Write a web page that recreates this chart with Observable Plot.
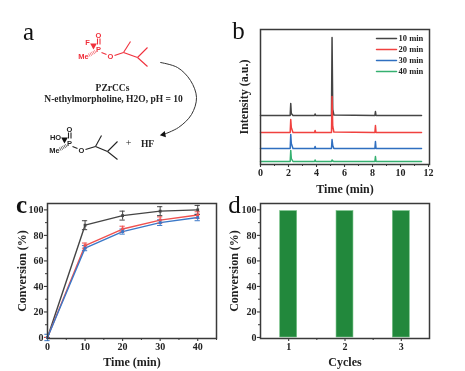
<!DOCTYPE html>
<html><head><meta charset="utf-8">
<script src="https://cdn.jsdelivr.net/npm/d3@7"></script>
<script src="https://cdn.jsdelivr.net/npm/@observablehq/plot@0.6"></script>
<style>
html,body{margin:0;padding:0;background:#fff;width:465px;height:371px;overflow:hidden}
#root{position:relative;width:465px;height:371px;filter:blur(0.35px)}
#root svg{position:absolute;overflow:visible}
</style></head><body><div id="root"></div>
<script>
const SERIF = "'Liberation Serif','Times New Roman',serif";
const INK = "#3a3a3a";
const noLabel = () => "";

// Panel b: chromatogram
const bTimes = [0, 2.12, 2.16, 2.2, 2.32, 3.86, 3.9, 3.94, 5.07, 5.11, 5.16, 5.24, 8.17, 8.21, 8.25, 11.5];
const bSeries = ["10 min", "20 min", "30 min", "40 min"];
const bColors = ["#454545", "#f0413f", "#2f6fc0", "#35b070"];
const b10 = [49, 49, 61, 51, 49, 49, 50.5, 49, 49, 127, 55, 49.5, 49, 53, 49, 49];
const b20 = [32, 32, 45, 37, 32, 32, 34, 32, 32, 68, 38, 32.5, 32, 39, 32, 32];
const b30 = [16, 16, 30, 21, 16, 16, 18, 16, 16, 25, 19, 16, 16, 23, 16, 16];
const b40 = [3, 3, 14, 6, 3, 3, 4.5, 3, 3, 4.5, 3.5, 3, 3, 8, 3, 3];
const bValues = [b10, b20, b30, b40];
const bLegendY = [126, 115, 104, 93];

// Panel c: conversion over time
const cTimes = [0, 10, 20, 30, 40];
const cBlack = [0, 88, 95.5, 99, 100];
const cRed = [0, 72, 85, 92, 96];
const cBlue = [0, 70, 83, 90, 94];
const cBlackErr = [0, 3.5, 3.5, 3.5, 3.5];
const cRedErr = [0, 2, 2.2, 2.5, 2.5];
const cBlueErr = [2.5, 2, 2, 2.2, 2.5];
const cColors = ["#454545", "#f0504e", "#3a78c8"];

// Panel d: recycling
const dCycles = [1, 2, 3];
const dValues = [99, 99, 99];

// Panel a: scheme, on a page-sized schematic scale
const redBonds = [[[101,52],[106,54]], [[114,55],[123,52]], [[123,52],[130,41]], [[123,52],[137,57]], [[137,57],[147,47]], [[137,57],[147,66]], [[97,44],[97,38]], [[99.5,44],[99.5,38]]];
const blackBonds = [[[72,146],[77,148]], [[85,149],[95,146]], [[95,146],[101,135]], [[95,146],[107,151]], [[107,151],[117,141]], [[107,151],[117,159]], [[68,138],[68,132]], [[70.5,138],[70.5,132]]];
const hashBonds = [[[95,51],[88,55],"#f0404a"], [[66,145],[59,149],"#222"]];
const wedges = [[93,45,"#f0303c"], [64,139,"#111"]];
const atoms = [["O",98,35.5,"#f0303c"],["F",87,42,"#f0303c"],["P",98,49,"#f0303c"],["Me",83,56,"#f0303c"],["O",110,56,"#f0303c"],
  ["O",69,129.5,"#222"],["HO",55,137,"#222"],["P",69,143,"#222"],["Me",54,150,"#222"],["O",81,150,"#222"]];
const schemeText = [["PZrCCs",112,87],["N-ethylmorpholine, H2O, pH = 10",113,98],["HF",147,143]];
const plusSign = [["+",128,142]];
const arrowPath = [[160,62],[177,67],[190,80],[196,97],[191,114],[178,127],[163,134]];
const lettersThin = [["a",28,31],["b",238,30],["d",234,204]];
const lettersBold = [["c",21,204]];

const root = document.getElementById("root");
function place(p, left, top){ p.style.left = left+"px"; p.style.top = top+"px"; root.appendChild(p); }
const baseStyle = {fontFamily:SERIF, fontWeight:"bold", fontSize:"10px", background:"transparent", color:INK, overflow:"visible"};

// Scheme + panel letters
const pageX = {type:"linear", domain:[0,465], range:[0,465]};
const pageY = {type:"linear", domain:[0,371], range:[0,371]};
const toSeg = (bonds)=>bonds.map(b=>({x1:b[0][0],y1:b[0][1],x2:b[1][0],y2:b[1][1]}));
const toAtom = (a)=>({t:a[0],x:a[1],y:a[2],c:a[3]});
const scheme = Plot.plot({
  width:465, height:371, margin:0, style:{...baseStyle},
  x:{...pageX, axis:null}, y:{...pageY, axis:null},
  marks:[
    Plot.link(toSeg(redBonds),{x1:"x1",y1:"y1",x2:"x2",y2:"y2",stroke:"#f0303c",strokeWidth:1.1}),
    Plot.link(toSeg(blackBonds),{x1:"x1",y1:"y1",x2:"x2",y2:"y2",stroke:"#222",strokeWidth:1.1}),
    Plot.link(hashBonds,{x1:d=>d[0][0],y1:d=>d[0][1],x2:d=>d[1][0],y2:d=>d[1][1],stroke:d=>d[2],strokeWidth:3.5,strokeDasharray:"0.7,1",strokeOpacity:0.8}),
    Plot.dot(wedges,{x:d=>d[0],y:d=>d[1],fill:d=>d[2],symbol:"triangle",r:2.5,rotate:60}),
    Plot.text(atoms.map(toAtom),{x:"x",y:"y",text:"t",fill:"c",fontFamily:"'Liberation Sans',sans-serif",fontSize:7.5,fontWeight:"bold"}),
    Plot.text(schemeText,{x:d=>d[1],y:d=>d[2],text:d=>d[0],fill:"#222",fontSize:9.5,fontWeight:"bold"}),
    Plot.text(plusSign,{x:d=>d[1],y:d=>d[2],text:d=>d[0],fill:"#222",fontSize:10,fontWeight:"normal"}),
    Plot.line(arrowPath,{x:d=>d[0],y:d=>d[1],curve:"catmull-rom",stroke:"#333",strokeWidth:1}),
    Plot.dot(arrowPath.slice(-1),{x:d=>d[0],y:d=>d[1],symbol:"triangle",r:2.4,rotate:-100,fill:"#111"}),
    Plot.text(lettersThin,{x:d=>d[1],y:d=>d[2],text:d=>d[0],fill:"#111",fontSize:25,fontWeight:"normal"}),
    Plot.text(lettersBold,{x:d=>d[1],y:d=>d[2],text:d=>d[0],fill:"#111",fontSize:25,fontWeight:"bold"})
  ]
});
place(scheme,0,0);

function yConvAxis(labelDx){
  return [
    Plot.axisY({ticks:[0,20,40,60,80,100],tickSize:3,tickPadding:1,label:null,stroke:INK,strokeWidth:1.1,fill:"#222"}),
    Plot.axisY({ticks:[10,30,50,70,90],tickSize:2,tickFormat:noLabel,label:null,stroke:INK,strokeWidth:1}),
    Plot.text(["Conversion (%)"],{frameAnchor:"left",textAnchor:"middle",rotate:-90,dx:labelDx,fontSize:12,fill:"#222",fontWeight:"bold"})
  ];
}

// Panel b
const bRows = bSeries.flatMap((s,i)=>bTimes.map((t,j)=>({s,t,v:bValues[i][j]})));
const bLegend = bSeries.flatMap((s,i)=>[{s,t:8.29,v:bLegendY[i]},{s,t:9.71,v:bLegendY[i]}]);
const bLabels = bSeries.map((s,i)=>({s,t:9.86,v:bLegendY[i]}));
const colorB = {domain:bSeries, range:bColors};
place(Plot.plot({
  width:229, height:185, marginLeft:40, marginRight:20, marginTop:14, marginBottom:36,
  style:{...baseStyle}, color:colorB,
  x:{domain:[0,12.07],axis:null}, y:{domain:[0,135],axis:null},
  marks:[
    Plot.axisX({ticks:[0,2,4,6,8,10,12],tickSize:3,tickPadding:1,label:null,stroke:INK,strokeWidth:1.1,fill:"#222"}),
    Plot.axisX({ticks:[1,3,5,7,9,11],tickSize:2,tickFormat:noLabel,label:null,stroke:INK}),
    Plot.line(bRows,{x:"t",y:"v",z:"s",stroke:"s",strokeWidth:1.5}),
    Plot.line(bLegend,{x:"t",y:"v",z:"s",stroke:"s",strokeWidth:1.6}),
    Plot.text(bLabels,{x:"t",y:"v",text:"s",textAnchor:"start",fill:"#222",fontSize:8.5,fontWeight:"bold"}),
    Plot.frame({stroke:INK,strokeWidth:1.5}),
    Plot.text(["Intensity (a.u.)"],{frameAnchor:"left",textAnchor:"middle",rotate:-90,dx:-16,fontSize:12,fill:"#222",fontWeight:"bold"}),
    Plot.text(["Time (min)"],{frameAnchor:"bottom",dy:28,fontSize:12,fill:"#222",fontWeight:"bold"})
  ]
}),220,15);

// Panel c
const cNames = ["A","B","C"];
const cData = [cBlack,cRed,cBlue];
const cErrs = [cBlackErr,cRedErr,cBlueErr];
const cRows = cNames.flatMap((s,i)=>cTimes.map((t,j)=>({s,t,v:cData[i][j],e:cErrs[i][j]})));
place(Plot.plot({
  width:216, height:175, marginLeft:37, marginRight:10, marginTop:13, marginBottom:27,
  style:{...baseStyle}, color:{domain:cNames,range:cColors},
  x:{domain:[0,45],axis:null}, y:{domain:[-0.8,105],axis:null},
  marks:[
    Plot.axisX({ticks:[0,10,20,30,40],tickSize:3,tickPadding:1,label:null,stroke:INK,strokeWidth:1.1,fill:"#222"}),
    Plot.axisX({ticks:[5,15,25,35,45],tickSize:2,tickFormat:noLabel,label:null,stroke:INK}),
    ...yConvAxis(-25),
    Plot.line(cRows,{x:"t",y:"v",z:"s",stroke:"s",strokeWidth:1.4}),
    Plot.ruleX(cRows,{x:"t",y1:d=>d.v-d.e,y2:d=>d.v+d.e,stroke:"s",strokeWidth:1}),
    Plot.ruleY(cRows,{y:d=>d.v+d.e,x1:d=>d.t-0.7,x2:d=>d.t+0.7,stroke:"s",strokeWidth:1}),
    Plot.ruleY(cRows,{y:d=>d.v-d.e,x1:d=>d.t-0.7,x2:d=>d.t+0.7,stroke:"s",strokeWidth:1}),
    Plot.dot(cRows,{x:"t",y:"v",fill:"s",symbol:"square",r:1.6}),
    Plot.frame({stroke:INK,strokeWidth:1.5}),
    Plot.text(["Time (min)"],{frameAnchor:"bottom",dy:27,fontSize:12,fill:"#222",fontWeight:"bold"})
  ]
}),10,190);

// Panel d
const dRows = dCycles.map((c,i)=>({c,v:dValues[i]}));
place(Plot.plot({
  width:229, height:175, marginLeft:40, marginRight:20, marginTop:13, marginBottom:27,
  style:{...baseStyle},
  x:{domain:[0.5,3.5],axis:null}, y:{domain:[-0.8,105],axis:null},
  marks:[
    Plot.axisX({ticks:dCycles,tickSize:3,tickPadding:1,tickFormat:d3.format("d"),label:null,stroke:INK,strokeWidth:1.1,fill:"#222"}),
    Plot.axisX({ticks:[1.5,2.5],tickSize:2,tickFormat:noLabel,label:null,stroke:INK}),
    ...yConvAxis(-26),
    Plot.rectY(dRows,{x1:d=>d.c-0.15,x2:d=>d.c+0.15,y1:0,y2:"v",fill:"#22883c",stroke:"#6fbf80",strokeWidth:0.6}),
    Plot.frame({stroke:INK,strokeWidth:1.5}),
    Plot.text(["Cycles"],{frameAnchor:"bottom",dy:27,fontSize:12,fill:"#222",fontWeight:"bold"})
  ]
}),220,190);
</script></body></html>
